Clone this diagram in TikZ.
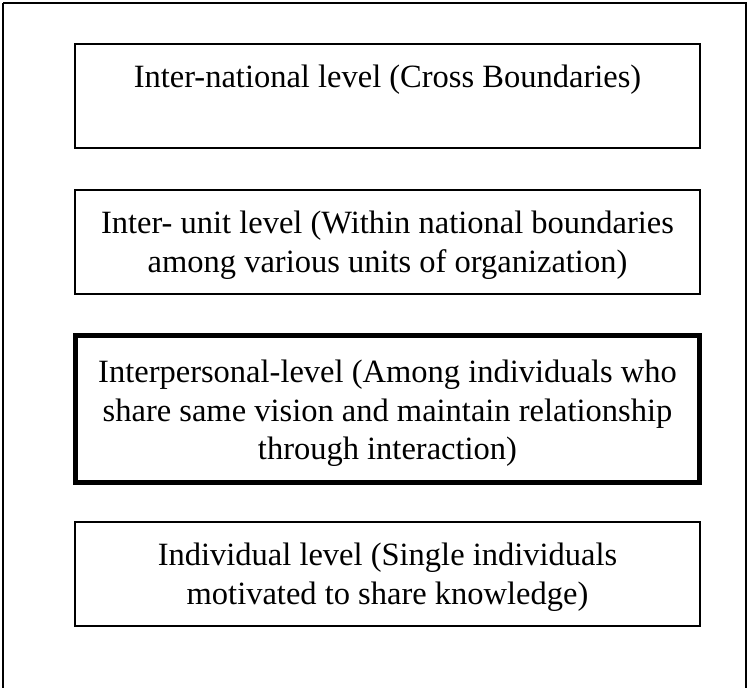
\documentclass[tikz,border=0pt]{standalone}
\usepackage{fontspec}
\setmainfont{Liberation Serif}
\begin{document}
\begin{tikzpicture}[x=1pt,y=-1pt,
  lvbox/.style={draw=black, line width=1.6pt, rectangle, inner sep=0pt, minimum width=625pt},
  thickbox/.style={draw=black, line width=5pt, rectangle, inner sep=0pt, minimum width=624pt},
  lvtext/.style={anchor=north, align=center, inner sep=0pt, font=\fontsize{32.5}{38.5}\selectfont}]
\useasboundingbox (0,0) rectangle (748,688);
\draw[line width=1.6pt] (3,3) -- (746,3) -- (746,692) (3,692) -- (3,3);
\node[lvbox, minimum height=104pt] (b1) at (387.5,96) {};
\node[lvbox, minimum height=104pt] (b2) at (387.5,242) {};
\node[thickbox, minimum height=146.5pt] (b3) at (387.5,408.75) {};
\node[lvbox, minimum height=104pt] (b4) at (387.5,574) {};
\node[lvtext] (t1) at (387.5,64.8) {Inter-national level (Cross Boundaries)};
\node[lvtext] (t2) at (387.5,210.8) {Inter- unit level (Within national boundaries\\among various units of organization)};
\node[lvtext] (t3) at (387.5,359.8) {Interpersonal-level (Among individuals who\\share same vision and maintain relationship\\through interaction)};
\node[lvtext] (t4) at (387.5,542.8) {Individual level (Single individuals\\motivated to share knowledge)};
\end{tikzpicture}
\end{document}
